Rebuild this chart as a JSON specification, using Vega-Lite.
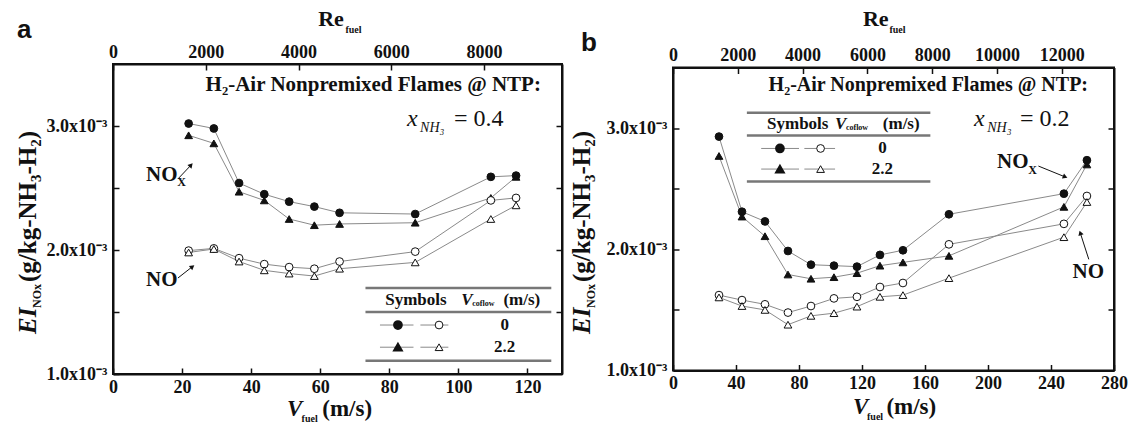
{
"$schema": "https://vega.github.io/schema/vega-lite/v6.json",
"background": "white",
"padding": {"left": 14, "top": 7, "right": 2, "bottom": 2},
"spacing": 111,
"bounds": "flush",
"center": true,
"datasets": {
"pts": [
{"panel":"a","species":"NOx","coflow":"0","V":21.9,"EI":0.00302},
{"panel":"a","species":"NOx","coflow":"0","V":29.2,"EI":0.00298},
{"panel":"a","species":"NOx","coflow":"0","V":36.5,"EI":0.00254},
{"panel":"a","species":"NOx","coflow":"0","V":43.8,"EI":0.00245},
{"panel":"a","species":"NOx","coflow":"0","V":51.0,"EI":0.00239},
{"panel":"a","species":"NOx","coflow":"0","V":58.3,"EI":0.00235},
{"panel":"a","species":"NOx","coflow":"0","V":65.6,"EI":0.00230},
{"panel":"a","species":"NOx","coflow":"0","V":87.5,"EI":0.00229},
{"panel":"a","species":"NOx","coflow":"0","V":109.4,"EI":0.00259},
{"panel":"a","species":"NOx","coflow":"0","V":116.7,"EI":0.00260},
{"panel":"a","species":"NOx","coflow":"2.2","V":21.9,"EI":0.002925},
{"panel":"a","species":"NOx","coflow":"2.2","V":29.2,"EI":0.00286},
{"panel":"a","species":"NOx","coflow":"2.2","V":36.5,"EI":0.00247},
{"panel":"a","species":"NOx","coflow":"2.2","V":43.8,"EI":0.00240},
{"panel":"a","species":"NOx","coflow":"2.2","V":51.0,"EI":0.00225},
{"panel":"a","species":"NOx","coflow":"2.2","V":58.3,"EI":0.00220},
{"panel":"a","species":"NOx","coflow":"2.2","V":65.6,"EI":0.00221},
{"panel":"a","species":"NOx","coflow":"2.2","V":87.5,"EI":0.00222},
{"panel":"a","species":"NOx","coflow":"2.2","V":109.4,"EI":0.00242},
{"panel":"a","species":"NOx","coflow":"2.2","V":116.7,"EI":0.00259},
{"panel":"a","species":"NO","coflow":"0","V":21.9,"EI":0.001995},
{"panel":"a","species":"NO","coflow":"0","V":29.2,"EI":0.002013},
{"panel":"a","species":"NO","coflow":"0","V":36.5,"EI":0.001934},
{"panel":"a","species":"NO","coflow":"0","V":43.8,"EI":0.001886},
{"panel":"a","species":"NO","coflow":"0","V":51.0,"EI":0.001862},
{"panel":"a","species":"NO","coflow":"0","V":58.3,"EI":0.001849},
{"panel":"a","species":"NO","coflow":"0","V":65.6,"EI":0.001907},
{"panel":"a","species":"NO","coflow":"0","V":87.5,"EI":0.001987},
{"panel":"a","species":"NO","coflow":"0","V":109.4,"EI":0.00240},
{"panel":"a","species":"NO","coflow":"0","V":116.7,"EI":0.00242},
{"panel":"a","species":"NO","coflow":"2.2","V":21.9,"EI":0.00198},
{"panel":"a","species":"NO","coflow":"2.2","V":29.2,"EI":0.002008},
{"panel":"a","species":"NO","coflow":"2.2","V":36.5,"EI":0.001907},
{"panel":"a","species":"NO","coflow":"2.2","V":43.8,"EI":0.001836},
{"panel":"a","species":"NO","coflow":"2.2","V":51.0,"EI":0.00181},
{"panel":"a","species":"NO","coflow":"2.2","V":58.3,"EI":0.00179},
{"panel":"a","species":"NO","coflow":"2.2","V":65.6,"EI":0.001849},
{"panel":"a","species":"NO","coflow":"2.2","V":87.5,"EI":0.0019},
{"panel":"a","species":"NO","coflow":"2.2","V":109.4,"EI":0.00225},
{"panel":"a","species":"NO","coflow":"2.2","V":116.7,"EI":0.00236},
{"panel":"b","species":"NOx","coflow":"0","V":29.2,"EI":0.00293},
{"panel":"b","species":"NOx","coflow":"0","V":43.8,"EI":0.00231},
{"panel":"b","species":"NOx","coflow":"0","V":58.4,"EI":0.00223},
{"panel":"b","species":"NOx","coflow":"0","V":73.0,"EI":0.001986},
{"panel":"b","species":"NOx","coflow":"0","V":87.6,"EI":0.001873},
{"panel":"b","species":"NOx","coflow":"0","V":102.2,"EI":0.001865},
{"panel":"b","species":"NOx","coflow":"0","V":116.8,"EI":0.001857},
{"panel":"b","species":"NOx","coflow":"0","V":131.4,"EI":0.001954},
{"panel":"b","species":"NOx","coflow":"0","V":146.0,"EI":0.001992},
{"panel":"b","species":"NOx","coflow":"0","V":175.2,"EI":0.002289},
{"panel":"b","species":"NOx","coflow":"0","V":248.2,"EI":0.002459},
{"panel":"b","species":"NOx","coflow":"0","V":262.8,"EI":0.002735},
{"panel":"b","species":"NOx","coflow":"2.2","V":29.2,"EI":0.00277},
{"panel":"b","species":"NOx","coflow":"2.2","V":43.8,"EI":0.00227},
{"panel":"b","species":"NOx","coflow":"2.2","V":58.4,"EI":0.002108},
{"panel":"b","species":"NOx","coflow":"2.2","V":73.0,"EI":0.001792},
{"panel":"b","species":"NOx","coflow":"2.2","V":87.6,"EI":0.001757},
{"panel":"b","species":"NOx","coflow":"2.2","V":102.2,"EI":0.00177},
{"panel":"b","species":"NOx","coflow":"2.2","V":116.8,"EI":0.001803},
{"panel":"b","species":"NOx","coflow":"2.2","V":131.4,"EI":0.001865},
{"panel":"b","species":"NOx","coflow":"2.2","V":146.0,"EI":0.001892},
{"panel":"b","species":"NOx","coflow":"2.2","V":175.2,"EI":0.001946},
{"panel":"b","species":"NOx","coflow":"2.2","V":248.2,"EI":0.00235},
{"panel":"b","species":"NOx","coflow":"2.2","V":262.8,"EI":0.0027},
{"panel":"b","species":"NO","coflow":"0","V":29.2,"EI":0.001622},
{"panel":"b","species":"NO","coflow":"0","V":43.8,"EI":0.001581},
{"panel":"b","species":"NO","coflow":"0","V":58.4,"EI":0.001546},
{"panel":"b","species":"NO","coflow":"0","V":73.0,"EI":0.001478},
{"panel":"b","species":"NO","coflow":"0","V":87.6,"EI":0.001532},
{"panel":"b","species":"NO","coflow":"0","V":102.2,"EI":0.001595},
{"panel":"b","species":"NO","coflow":"0","V":116.8,"EI":0.001608},
{"panel":"b","species":"NO","coflow":"0","V":131.4,"EI":0.001689},
{"panel":"b","species":"NO","coflow":"0","V":146.0,"EI":0.001722},
{"panel":"b","species":"NO","coflow":"0","V":175.2,"EI":0.002041},
{"panel":"b","species":"NO","coflow":"0","V":248.2,"EI":0.00221},
{"panel":"b","species":"NO","coflow":"0","V":262.8,"EI":0.00244},
{"panel":"b","species":"NO","coflow":"2.2","V":29.2,"EI":0.001603},
{"panel":"b","species":"NO","coflow":"2.2","V":43.8,"EI":0.001532},
{"panel":"b","species":"NO","coflow":"2.2","V":58.4,"EI":0.0015},
{"panel":"b","species":"NO","coflow":"2.2","V":73.0,"EI":0.001378},
{"panel":"b","species":"NO","coflow":"2.2","V":87.6,"EI":0.001451},
{"panel":"b","species":"NO","coflow":"2.2","V":102.2,"EI":0.001473},
{"panel":"b","species":"NO","coflow":"2.2","V":116.8,"EI":0.001527},
{"panel":"b","species":"NO","coflow":"2.2","V":131.4,"EI":0.001608},
{"panel":"b","species":"NO","coflow":"2.2","V":146.0,"EI":0.001622},
{"panel":"b","species":"NO","coflow":"2.2","V":175.2,"EI":0.001762},
{"panel":"b","species":"NO","coflow":"2.2","V":248.2,"EI":0.0021},
{"panel":"b","species":"NO","coflow":"2.2","V":262.8,"EI":0.00239}
]
},
"hconcat": [
{
"width": 449, "height": 310,
"layer": [
{
"layer": [
{"data":{"name":"pts"},"transform":[{"filter":"datum.panel === 'a'"}],
 "mark":{"type":"line","color":"#8a8a8a","strokeWidth":1},
 "encoding":{
  "x":{"field":"V","type":"quantitative","scale":{"domain":[0,130],"nice":false,"zero":false},"axis":{"values":[0,20,40,60,80,100,120],"title":null,"labelFlush":false,"format":"d"}},
  "y":{"field":"EI","type":"quantitative","scale":{"domain":[0.001,0.0035],"nice":false,"zero":false},"axis":{"values":[0.001,0.0015,0.002,0.0025,0.003],"title":null,"labelPadding":12,"labelExpr":"abs(datum.value*1000 - round(datum.value*1000)) < 0.01 ? format(datum.value*1000, '.1f') + 'x10⁻³' : ''"}},
  "detail":[{"field":"species"},{"field":"coflow"}]}},
{"data":{"name":"pts"},"transform":[{"filter":"datum.panel === 'a'"}],
 "mark":{"type":"point","filled":true,"stroke":"#111","strokeWidth":1,"size":60,"opacity":1},
 "encoding":{
  "x":{"field":"V","type":"quantitative","scale":{"domain":[0,130],"nice":false,"zero":false},"axis":{"values":[0,20,40,60,80,100,120],"title":null,"labelFlush":false,"format":"d"}},
  "y":{"field":"EI","type":"quantitative","scale":{"domain":[0.001,0.0035],"nice":false,"zero":false},"axis":{"values":[0.001,0.0015,0.002,0.0025,0.003],"title":null,"labelPadding":12,"labelExpr":"abs(datum.value*1000 - round(datum.value*1000)) < 0.01 ? format(datum.value*1000, '.1f') + 'x10⁻³' : ''"}},
  "shape":{"field":"coflow","type":"nominal","scale":{"domain":["0","2.2"],"range":["circle","triangle-up"]},"legend":null},
  "fill":{"field":"species","type":"nominal","scale":{"domain":["NOx","NO"],"range":["#111111","#ffffff"]},"legend":null}}},
{"data":{"values":[{}]},"mark":{"type":"text","text":"a","font":"Liberation Sans, Arial, sans-serif","fontSize":26,"align":"left"},"encoding":{"x":{"datum":-27.8,"type":"quantitative"},"y":{"datum":0.00371,"type":"quantitative"}}},
{"data":{"values":[{}]},"mark":{"type":"text","text":"Re","fontSize":22,"align":"left"},"encoding":{"x":{"datum":59.4,"type":"quantitative"},"y":{"datum":0.003806,"type":"quantitative"}}},
{"data":{"values":[{}]},"mark":{"type":"text","text":"fuel","fontSize":10,"align":"left"},"encoding":{"x":{"datum":67.3,"type":"quantitative"},"y":{"datum":0.00375,"type":"quantitative"}}},
{"data":{"values":[{}]},"mark":{"type":"text","text":"V","fontSize":23,"fontStyle":"italic","align":"left"},"encoding":{"x":{"datum":50.4,"type":"quantitative"},"y":{"datum":0.000661,"type":"quantitative"}}},
{"data":{"values":[{}]},"mark":{"type":"text","text":"fuel","fontSize":10,"align":"left"},"encoding":{"x":{"datum":54.6,"type":"quantitative"},"y":{"datum":0.000613,"type":"quantitative"}}},
{"data":{"values":[{}]},"mark":{"type":"text","text":"(m/s)","fontSize":23,"align":"left"},"encoding":{"x":{"datum":60.6,"type":"quantitative"},"y":{"datum":0.000661,"type":"quantitative"}}},
{"data":{"values":[{}]},"mark":{"type":"text","text":"EI","fontSize":25,"fontStyle":"italic","align":"left","angle":270},"encoding":{"x":{"datum":-22.3,"type":"quantitative"},"y":{"datum":0.001323,"type":"quantitative"}}},
{"data":{"values":[{}]},"mark":{"type":"text","text":"NOx","fontSize":12,"align":"left","angle":270},"encoding":{"x":{"datum":-20.8,"type":"quantitative"},"y":{"datum":0.001532,"type":"quantitative"}}},
{"data":{"values":[{}]},"mark":{"type":"text","text":"(g/kg-NH₃-H₂)","fontSize":25,"align":"left","angle":270},"encoding":{"x":{"datum":-22.3,"type":"quantitative"},"y":{"datum":0.001742,"type":"quantitative"}}},
{"data":{"values":[{}]},"mark":{"type":"text","text":"H₂-Air Nonpremixed Flames @ NTP:","fontSize":21,"align":"right"},"encoding":{"x":{"datum":123.9,"type":"quantitative"},"y":{"datum":0.003282,"type":"quantitative"}}},
{"data":{"values":[{}]},"mark":{"type":"text","text":"x","fontSize":24,"fontWeight":"normal","fontStyle":"italic","align":"left"},"encoding":{"x":{"datum":85.1,"type":"quantitative"},"y":{"datum":0.003,"type":"quantitative"}}},
{"data":{"values":[{}]},"mark":{"type":"text","text":"NH₃","fontSize":14,"fontWeight":"normal","fontStyle":"italic","align":"left"},"encoding":{"x":{"datum":88.9,"type":"quantitative"},"y":{"datum":0.002952,"type":"quantitative"}}},
{"data":{"values":[{}]},"mark":{"type":"text","text":"= 0.4","fontSize":24,"fontWeight":"normal","align":"left"},"encoding":{"x":{"datum":98.7,"type":"quantitative"},"y":{"datum":0.003,"type":"quantitative"}}},
{"data":{"values":[{}]},"mark":{"type":"text","text":"NO","fontSize":21,"align":"left"},"encoding":{"x":{"datum":9.55,"type":"quantitative"},"y":{"datum":0.002556,"type":"quantitative"}}},
{"data":{"values":[{}]},"mark":{"type":"text","text":"X","fontSize":12,"align":"left"},"encoding":{"x":{"datum":18.6,"type":"quantitative"},"y":{"datum":0.002516,"type":"quantitative"}}},
{"data":{"values":[{}]},"mark":{"type":"rule","color":"#111","strokeWidth":1},"encoding":{"x":{"datum":18.8,"type":"quantitative"},"y":{"datum":0.002573,"type":"quantitative"},"x2":{"datum":22.6},"y2":{"datum":0.002685}}},
{"data":{"values":[{}]},"mark":{"type":"point","shape":"triangle-up","filled":true,"color":"#111","size":30,"angle":42,"opacity":1},"encoding":{"x":{"datum":22.6,"type":"quantitative"},"y":{"datum":0.002685,"type":"quantitative"}}},
{"data":{"values":[{}]},"mark":{"type":"text","text":"NO","fontSize":21,"align":"left"},"encoding":{"x":{"datum":9.55,"type":"quantitative"},"y":{"datum":0.00171,"type":"quantitative"}}},
{"data":{"values":[{}]},"mark":{"type":"rule","color":"#111","strokeWidth":1},"encoding":{"x":{"datum":18.8,"type":"quantitative"},"y":{"datum":0.001774,"type":"quantitative"},"x2":{"datum":23.0},"y2":{"datum":0.001866}}},
{"data":{"values":[{}]},"mark":{"type":"point","shape":"triangle-up","filled":true,"color":"#111","size":30,"angle":52,"opacity":1},"encoding":{"x":{"datum":23.0,"type":"quantitative"},"y":{"datum":0.001866,"type":"quantitative"}}},
{"data":{"values":[{}]},"mark":{"type":"rule","color":"#777","strokeWidth":2.5},"encoding":{"x":{"datum":73.1,"type":"quantitative"},"x2":{"datum":126.9},"y":{"datum":0.001693,"type":"quantitative"}}},
{"data":{"values":[{}]},"mark":{"type":"rule","color":"#777","strokeWidth":2.5},"encoding":{"x":{"datum":73.1,"type":"quantitative"},"x2":{"datum":126.9},"y":{"datum":0.001501,"type":"quantitative"}}},
{"data":{"values":[{}]},"mark":{"type":"rule","color":"#777","strokeWidth":2.5},"encoding":{"x":{"datum":73.1,"type":"quantitative"},"x2":{"datum":126.9},"y":{"datum":0.001107,"type":"quantitative"}}},
{"data":{"values":[{}]},"mark":{"type":"text","text":"Symbols","fontSize":17,"align":"center","baseline":"middle"},"encoding":{"x":{"datum":87.7,"type":"quantitative"},"y":{"datum":0.001597,"type":"quantitative"}}},
{"data":{"values":[{}]},"mark":{"type":"text","text":"V","fontSize":17,"fontStyle":"italic","align":"left","baseline":"middle"},"encoding":{"x":{"datum":100.8,"type":"quantitative"},"y":{"datum":0.001597,"type":"quantitative"}}},
{"data":{"values":[{}]},"mark":{"type":"text","text":"coflow","fontSize":8,"align":"left","baseline":"middle"},"encoding":{"x":{"datum":104.0,"type":"quantitative"},"y":{"datum":0.001562,"type":"quantitative"}}},
{"data":{"values":[{}]},"mark":{"type":"text","text":"(m/s)","fontSize":17,"align":"right","baseline":"middle"},"encoding":{"x":{"datum":123.7,"type":"quantitative"},"y":{"datum":0.001597,"type":"quantitative"}}},
{"data":{"values":[{}]},"mark":{"type":"rule","color":"#8a8a8a","strokeWidth":1},"encoding":{"x":{"datum":77.3,"type":"quantitative"},"x2":{"datum":87.0},"y":{"datum":0.001395,"type":"quantitative"}}},
{"data":{"values":[{}]},"mark":{"type":"rule","color":"#8a8a8a","strokeWidth":1},"encoding":{"x":{"datum":89.0,"type":"quantitative"},"x2":{"datum":97.1},"y":{"datum":0.001395,"type":"quantitative"}}},
{"data":{"values":[{}]},"mark":{"type":"rule","color":"#8a8a8a","strokeWidth":1},"encoding":{"x":{"datum":77.3,"type":"quantitative"},"x2":{"datum":87.0},"y":{"datum":0.001216,"type":"quantitative"}}},
{"data":{"values":[{}]},"mark":{"type":"rule","color":"#8a8a8a","strokeWidth":1},"encoding":{"x":{"datum":89.0,"type":"quantitative"},"x2":{"datum":97.1},"y":{"datum":0.001216,"type":"quantitative"}}},
{"data":{"values":[{}]},"mark":{"type":"point","shape":"circle","filled":true,"fill":"#111","stroke":"#111","size":60,"opacity":1},"encoding":{"x":{"datum":82.5,"type":"quantitative"},"y":{"datum":0.001395,"type":"quantitative"}}},
{"data":{"values":[{}]},"mark":{"type":"point","shape":"circle","filled":true,"fill":"#fff","stroke":"#111","strokeWidth":1,"size":60,"opacity":1},"encoding":{"x":{"datum":94.4,"type":"quantitative"},"y":{"datum":0.001395,"type":"quantitative"}}},
{"data":{"values":[{}]},"mark":{"type":"point","shape":"triangle-up","filled":true,"fill":"#111","stroke":"#111","size":60,"opacity":1},"encoding":{"x":{"datum":82.5,"type":"quantitative"},"y":{"datum":0.001216,"type":"quantitative"}}},
{"data":{"values":[{}]},"mark":{"type":"point","shape":"triangle-up","filled":true,"fill":"#fff","stroke":"#111","strokeWidth":1,"size":60,"opacity":1},"encoding":{"x":{"datum":94.4,"type":"quantitative"},"y":{"datum":0.001216,"type":"quantitative"}}},
{"data":{"values":[{}]},"mark":{"type":"text","text":"0","fontSize":17,"align":"center","baseline":"middle"},"encoding":{"x":{"datum":113.4,"type":"quantitative"},"y":{"datum":0.001395,"type":"quantitative"}}},
{"data":{"values":[{}]},"mark":{"type":"text","text":"2.2","fontSize":17,"align":"center","baseline":"middle"},"encoding":{"x":{"datum":113.4,"type":"quantitative"},"y":{"datum":0.001216,"type":"quantitative"}}}
]
},
{"data":{"values":[{}]},"mark":{"type":"rule","opacity":0},"encoding":{"x":{"datum":0,"type":"quantitative","scale":{"domain":[0,9680],"nice":false,"zero":false},"axis":{"orient":"top","values":[0,2000,4000,6000,8000],"title":null,"labelFlush":false,"format":"d","labelBaseline":"alphabetic","labelPadding":13}}}},
{"data":{"values":[{}]},"mark":{"type":"rule","opacity":0},"encoding":{"y":{"datum":0.002,"type":"quantitative","scale":{"domain":[0.001,0.0035],"nice":false,"zero":false},"axis":{"orient":"right","values":[0.0015,0.002,0.0025,0.003],"labels":false,"title":null}}}}
],
"resolve":{"scale":{"x":"independent","y":"independent"},"axis":{"x":"independent","y":"independent"}}
},
{
"width": 441, "height": 303,
"layer": [
{
"layer": [
{"data":{"name":"pts"},"transform":[{"filter":"datum.panel === 'b'"}],
 "mark":{"type":"line","color":"#8a8a8a","strokeWidth":1},
 "encoding":{
  "x":{"field":"V","type":"quantitative","scale":{"domain":[0,280],"nice":false,"zero":false},"axis":{"values":[0,40,80,120,160,200,240,280],"title":null,"labelFlush":false,"format":"d"}},
  "y":{"field":"EI","type":"quantitative","scale":{"domain":[0.001,0.0035],"nice":false,"zero":false},"axis":{"values":[0.001,0.0015,0.002,0.0025,0.003],"title":null,"labelPadding":12,"labelExpr":"abs(datum.value*1000 - round(datum.value*1000)) < 0.01 ? format(datum.value*1000, '.1f') + 'x10⁻³' : ''"}},
  "detail":[{"field":"species"},{"field":"coflow"}]}},
{"data":{"name":"pts"},"transform":[{"filter":"datum.panel === 'b'"}],
 "mark":{"type":"point","filled":true,"stroke":"#111","strokeWidth":1,"size":60,"opacity":1},
 "encoding":{
  "x":{"field":"V","type":"quantitative","scale":{"domain":[0,280],"nice":false,"zero":false},"axis":{"values":[0,40,80,120,160,200,240,280],"title":null,"labelFlush":false,"format":"d"}},
  "y":{"field":"EI","type":"quantitative","scale":{"domain":[0.001,0.0035],"nice":false,"zero":false},"axis":{"values":[0.001,0.0015,0.002,0.0025,0.003],"title":null,"labelPadding":12,"labelExpr":"abs(datum.value*1000 - round(datum.value*1000)) < 0.01 ? format(datum.value*1000, '.1f') + 'x10⁻³' : ''"}},
  "shape":{"field":"coflow","type":"nominal","scale":{"domain":["0","2.2"],"range":["circle","triangle-up"]},"legend":null},
  "fill":{"field":"species","type":"nominal","scale":{"domain":["NOx","NO"],"range":["#111111","#ffffff"]},"legend":null}}},
{"data":{"values":[{}]},"mark":{"type":"text","text":"b","font":"Liberation Sans, Arial, sans-serif","fontSize":26,"align":"left"},"encoding":{"x":{"datum":-58.4,"type":"quantitative"},"y":{"datum":0.003636,"type":"quantitative"}}},
{"data":{"values":[{}]},"mark":{"type":"text","text":"Re","fontSize":22,"align":"left"},"encoding":{"x":{"datum":120.6,"type":"quantitative"},"y":{"datum":0.003842,"type":"quantitative"}}},
{"data":{"values":[{}]},"mark":{"type":"text","text":"fuel","fontSize":10,"align":"left"},"encoding":{"x":{"datum":137.4,"type":"quantitative"},"y":{"datum":0.003785,"type":"quantitative"}}},
{"data":{"values":[{}]},"mark":{"type":"text","text":"V","fontSize":23,"fontStyle":"italic","align":"left"},"encoding":{"x":{"datum":114.3,"type":"quantitative"},"y":{"datum":0.000641,"type":"quantitative"}}},
{"data":{"values":[{}]},"mark":{"type":"text","text":"fuel","fontSize":10,"align":"left"},"encoding":{"x":{"datum":123.2,"type":"quantitative"},"y":{"datum":0.000592,"type":"quantitative"}}},
{"data":{"values":[{}]},"mark":{"type":"text","text":"(m/s)","fontSize":23,"align":"left"},"encoding":{"x":{"datum":135.5,"type":"quantitative"},"y":{"datum":0.000641,"type":"quantitative"}}},
{"data":{"values":[{}]},"mark":{"type":"text","text":"EI","fontSize":25,"fontStyle":"italic","align":"left","angle":270},"encoding":{"x":{"datum":-53.0,"type":"quantitative"},"y":{"datum":0.001301,"type":"quantitative"}}},
{"data":{"values":[{}]},"mark":{"type":"text","text":"NOx","fontSize":12,"align":"left","angle":270},"encoding":{"x":{"datum":-49.8,"type":"quantitative"},"y":{"datum":0.001516,"type":"quantitative"}}},
{"data":{"values":[{}]},"mark":{"type":"text","text":"(g/kg-NH₃-H₂)","fontSize":25,"align":"left","angle":270},"encoding":{"x":{"datum":-53.0,"type":"quantitative"},"y":{"datum":0.00173,"type":"quantitative"}}},
{"data":{"values":[{}]},"mark":{"type":"text","text":"H₂-Air Nonpremixed Flames @ NTP:","fontSize":20,"align":"right"},"encoding":{"x":{"datum":263.5,"type":"quantitative"},"y":{"datum":0.003306,"type":"quantitative"}}},
{"data":{"values":[{}]},"mark":{"type":"text","text":"x","fontSize":24,"fontWeight":"normal","fontStyle":"italic","align":"left"},"encoding":{"x":{"datum":191.1,"type":"quantitative"},"y":{"datum":0.003017,"type":"quantitative"}}},
{"data":{"values":[{}]},"mark":{"type":"text","text":"NH₃","fontSize":14,"fontWeight":"normal","fontStyle":"italic","align":"left"},"encoding":{"x":{"datum":199.5,"type":"quantitative"},"y":{"datum":0.002968,"type":"quantitative"}}},
{"data":{"values":[{}]},"mark":{"type":"text","text":"= 0.2","fontSize":24,"fontWeight":"normal","align":"left"},"encoding":{"x":{"datum":220.3,"type":"quantitative"},"y":{"datum":0.003017,"type":"quantitative"}}},
{"data":{"values":[{}]},"mark":{"type":"text","text":"NO","fontSize":21,"align":"left"},"encoding":{"x":{"datum":205.7,"type":"quantitative"},"y":{"datum":0.002671,"type":"quantitative"}}},
{"data":{"values":[{}]},"mark":{"type":"text","text":"X","fontSize":12,"align":"left"},"encoding":{"x":{"datum":225.6,"type":"quantitative"},"y":{"datum":0.002621,"type":"quantitative"}}},
{"data":{"values":[{}]},"mark":{"type":"rule","color":"#111","strokeWidth":1},"encoding":{"x":{"datum":232,"type":"quantitative"},"y":{"datum":0.002687,"type":"quantitative"},"x2":{"datum":249},"y2":{"datum":0.002597}}},
{"data":{"values":[{}]},"mark":{"type":"point","shape":"triangle-up","filled":true,"color":"#111","size":30,"angle":112,"opacity":1},"encoding":{"x":{"datum":249,"type":"quantitative"},"y":{"datum":0.002597,"type":"quantitative"}}},
{"data":{"values":[{}]},"mark":{"type":"text","text":"NO","fontSize":21,"align":"left"},"encoding":{"x":{"datum":253.7,"type":"quantitative"},"y":{"datum":0.001766,"type":"quantitative"}}},
{"data":{"values":[{}]},"mark":{"type":"rule","color":"#111","strokeWidth":1},"encoding":{"x":{"datum":264,"type":"quantitative"},"y":{"datum":0.001917,"type":"quantitative"},"x2":{"datum":258.6},"y2":{"datum":0.002135}}},
{"data":{"values":[{}]},"mark":{"type":"point","shape":"triangle-up","filled":true,"color":"#111","size":30,"angle":-18,"opacity":1},"encoding":{"x":{"datum":258.6,"type":"quantitative"},"y":{"datum":0.002135,"type":"quantitative"}}},
{"data":{"values":[{}]},"mark":{"type":"rule","color":"#777","strokeWidth":2.5},"encoding":{"x":{"datum":46.9,"type":"quantitative"},"x2":{"datum":163.4},"y":{"datum":0.003127,"type":"quantitative"}}},
{"data":{"values":[{}]},"mark":{"type":"rule","color":"#777","strokeWidth":2.5},"encoding":{"x":{"datum":46.9,"type":"quantitative"},"x2":{"datum":163.4},"y":{"datum":0.002938,"type":"quantitative"}}},
{"data":{"values":[{}]},"mark":{"type":"rule","color":"#777","strokeWidth":2.5},"encoding":{"x":{"datum":46.9,"type":"quantitative"},"x2":{"datum":163.4},"y":{"datum":0.002559,"type":"quantitative"}}},
{"data":{"values":[{}]},"mark":{"type":"text","text":"Symbols","fontSize":17,"align":"center","baseline":"middle"},"encoding":{"x":{"datum":79.2,"type":"quantitative"},"y":{"datum":0.003032,"type":"quantitative"}}},
{"data":{"values":[{}]},"mark":{"type":"text","text":"V","fontSize":17,"fontStyle":"italic","align":"left","baseline":"middle"},"encoding":{"x":{"datum":102.9,"type":"quantitative"},"y":{"datum":0.003032,"type":"quantitative"}}},
{"data":{"values":[{}]},"mark":{"type":"text","text":"coflow","fontSize":8,"align":"left","baseline":"middle"},"encoding":{"x":{"datum":109.8,"type":"quantitative"},"y":{"datum":0.002997,"type":"quantitative"}}},
{"data":{"values":[{}]},"mark":{"type":"text","text":"(m/s)","fontSize":17,"align":"right","baseline":"middle"},"encoding":{"x":{"datum":156.6,"type":"quantitative"},"y":{"datum":0.003032,"type":"quantitative"}}},
{"data":{"values":[{}]},"mark":{"type":"rule","color":"#8a8a8a","strokeWidth":1},"encoding":{"x":{"datum":56,"type":"quantitative"},"x2":{"datum":80},"y":{"datum":0.002832,"type":"quantitative"}}},
{"data":{"values":[{}]},"mark":{"type":"rule","color":"#8a8a8a","strokeWidth":1},"encoding":{"x":{"datum":83.4,"type":"quantitative"},"x2":{"datum":102.9},"y":{"datum":0.002832,"type":"quantitative"}}},
{"data":{"values":[{}]},"mark":{"type":"rule","color":"#8a8a8a","strokeWidth":1},"encoding":{"x":{"datum":56,"type":"quantitative"},"x2":{"datum":80},"y":{"datum":0.002662,"type":"quantitative"}}},
{"data":{"values":[{}]},"mark":{"type":"rule","color":"#8a8a8a","strokeWidth":1},"encoding":{"x":{"datum":83.4,"type":"quantitative"},"x2":{"datum":102.9},"y":{"datum":0.002662,"type":"quantitative"}}},
{"data":{"values":[{}]},"mark":{"type":"point","shape":"circle","filled":true,"fill":"#111","stroke":"#111","size":60,"opacity":1},"encoding":{"x":{"datum":67.9,"type":"quantitative"},"y":{"datum":0.002832,"type":"quantitative"}}},
{"data":{"values":[{}]},"mark":{"type":"point","shape":"circle","filled":true,"fill":"#fff","stroke":"#111","strokeWidth":1,"size":60,"opacity":1},"encoding":{"x":{"datum":93.7,"type":"quantitative"},"y":{"datum":0.002832,"type":"quantitative"}}},
{"data":{"values":[{}]},"mark":{"type":"point","shape":"triangle-up","filled":true,"fill":"#111","stroke":"#111","size":60,"opacity":1},"encoding":{"x":{"datum":67.9,"type":"quantitative"},"y":{"datum":0.002662,"type":"quantitative"}}},
{"data":{"values":[{}]},"mark":{"type":"point","shape":"triangle-up","filled":true,"fill":"#fff","stroke":"#111","strokeWidth":1,"size":60,"opacity":1},"encoding":{"x":{"datum":93.7,"type":"quantitative"},"y":{"datum":0.002662,"type":"quantitative"}}},
{"data":{"values":[{}]},"mark":{"type":"text","text":"0","fontSize":17,"align":"center","baseline":"middle"},"encoding":{"x":{"datum":133,"type":"quantitative"},"y":{"datum":0.002832,"type":"quantitative"}}},
{"data":{"values":[{}]},"mark":{"type":"text","text":"2.2","fontSize":17,"align":"center","baseline":"middle"},"encoding":{"x":{"datum":133,"type":"quantitative"},"y":{"datum":0.002662,"type":"quantitative"}}}
]
},
{"data":{"values":[{}]},"mark":{"type":"rule","opacity":0},"encoding":{"x":{"datum":0,"type":"quantitative","scale":{"domain":[0,13610],"nice":false,"zero":false},"axis":{"orient":"top","values":[0,2000,4000,6000,8000,10000,12000],"title":null,"labelFlush":false,"format":"d","labelBaseline":"alphabetic","labelPadding":13}}}},
{"data":{"values":[{}]},"mark":{"type":"rule","opacity":0},"encoding":{"y":{"datum":0.002,"type":"quantitative","scale":{"domain":[0.001,0.0035],"nice":false,"zero":false},"axis":{"orient":"right","values":[0.0015,0.002,0.0025,0.003],"labels":false,"title":null}}}}
],
"resolve":{"scale":{"x":"independent","y":"independent"},"axis":{"x":"independent","y":"independent"}}
}
],
"config": {
 "view": {"stroke": "#111", "strokeWidth": 2},
 "axis": {"grid": false, "domainColor": "#111", "domainWidth": 2, "tickColor": "#111", "tickWidth": 1.5, "tickSize": -6, "labelFont": "Liberation Serif, Times New Roman, serif", "labelFontWeight": "bold", "labelFontSize": 18, "labelColor": "#111", "labelPadding": 10, "labelOverlap": false},
 "text": {"font": "Liberation Serif, Times New Roman, serif", "fontWeight": "bold", "color": "#111", "baseline": "alphabetic"}
}
}
